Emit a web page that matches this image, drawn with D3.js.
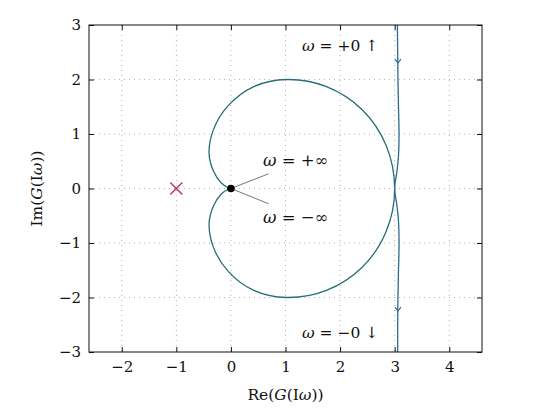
<!DOCTYPE html>
<html>
<head>
<meta charset="utf-8">
<script src="https://cdn.jsdelivr.net/npm/d3@7"></script>
<style>
    body { margin: 0; background: #fff; }
    text { font-family: "DejaVu Serif", serif; fill: #111; }
    .grid line { stroke: #b5b5b5; stroke-width: 1; stroke-dasharray: 1,4; }
</style>
</head>
<body>
<div id="chart"></div>
<script>
// axis ticks
let xTicks = [-2, -1, 0, 1, 2, 3, 4];
let yTicks = [-3, -2, -1, 0, 1, 2, 3];

// Nyquist loop (start at origin, go round through (3,0))
let loopRe = [0, -0.05, -0.18, -0.32, -0.4, -0.32, -0.05, 0.42, 1.02, 1.75, 2.4, 2.84, 3,
              2.84, 2.4, 1.75, 1.02, 0.42, -0.05, -0.32, -0.4, -0.32, -0.18, -0.05, 0];
let loopIm = [0, 0.014, 0.105, 0.32, 0.64, 1.08, 1.52, 1.87, 2.0, 1.87, 1.45, 0.8, 0,
              -0.8, -1.45, -1.87, -2.0, -1.87, -1.52, -1.08, -0.64, -0.32, -0.105, -0.014, 0];

// branch near omega = +-0
let stemRe = [3.05, 3.055, 3.06, 3.07, 3.08, 3.07, 3.04, 3.0, 3.04, 3.07, 3.08, 3.07, 3.06, 3.055, 3.055];
let stemIm = [3.0, 2.5, 2.0, 1.5, 1.0, 0.6, 0.3, 0, -0.3, -0.6, -1.0, -1.5, -2.0, -2.5, -3.0];

// arrow positions on the stem
let arrowRe = [3.06, 3.06];
let arrowIm = [2.3, -2.25];

// critical point and omega = +-inf point
let crossPt = [-1, 0];
let dotPt = [0, 0];

function drawChart() {
    const width = 533, height = 408;
    const left = 89, right = 482, top = 25, bottom = 352;
    const serif = 'DejaVu Serif';

    let svg = d3.select('#chart').append('svg')
        .attr('width', width)
        .attr('height', height);

    let x = d3.scaleLinear().domain([-2.6, 4.6]).range([left, right]);
    let y = d3.scaleLinear().domain([-3, 3]).range([bottom, top]);

    // dotted grid
    let grid = svg.append('g').attr('class', 'grid');
    grid.selectAll('.gx').data(xTicks).enter().append('line')
        .attr('x1', d => x(d)).attr('x2', d => x(d))
        .attr('y1', top).attr('y2', bottom);
    grid.selectAll('.gy').data(yTicks.filter(d => d > -3 && d < 3)).enter().append('line')
        .attr('y1', d => y(d)).attr('y2', d => y(d))
        .attr('x1', left).attr('x2', right);

    svg.append('clipPath').attr('id', 'clip')
        .append('rect')
        .attr('x', left).attr('y', top)
        .attr('width', right - left).attr('height', bottom - top);

    let plot = svg.append('g').attr('clip-path', 'url(#clip)');

    let line = d3.line()
        .x(d => x(d[0]))
        .y(d => y(d[1]))
        .curve(d3.curveCatmullRom.alpha(0.5));

    plot.append('path')
        .datum(loopRe.map((r, i) => [r, loopIm[i]]))
        .attr('d', line)
        .attr('fill', 'none')
        .attr('stroke', '#256f78')
        .attr('stroke-width', 1.3);

    plot.append('path')
        .datum(stemRe.map((r, i) => [r, stemIm[i]]))
        .attr('d', line)
        .attr('fill', 'none')
        .attr('stroke', '#2d6b90')
        .attr('stroke-width', 1.3);

    // arrowheads pointing down
    plot.selectAll('.arrow').data(arrowRe).enter().append('path')
        .attr('d', (d, i) => {
            let ax = x(d), ay = y(arrowIm[i]);
            return 'M' + (ax - 3) + ',' + (ay - 4) + 'L' + ax + ',' + ay + 'L' + (ax + 3) + ',' + (ay - 4);
        })
        .attr('fill', 'none')
        .attr('stroke', '#2d6b90')
        .attr('stroke-width', 1.1);

    // frame
    svg.append('rect')
        .attr('x', left).attr('y', top)
        .attr('width', right - left).attr('height', bottom - top)
        .attr('fill', 'none')
        .attr('stroke', '#111')
        .attr('stroke-width', 1);

    // inward ticks via axes
    let fmt = d3.format('d');
    svg.append('g')
        .attr('transform', 'translate(0,' + bottom + ')')
        .call(d3.axisBottom(x).tickValues(xTicks).tickSize(-5).tickPadding(9).tickFormat(fmt))
        .call(g => g.select('.domain').remove());
    svg.append('g')
        .attr('transform', 'translate(0,' + top + ')')
        .call(d3.axisTop(x).tickValues(xTicks).tickSize(-5).tickFormat(''))
        .call(g => g.select('.domain').remove());
    svg.append('g')
        .attr('transform', 'translate(' + left + ',0)')
        .call(d3.axisLeft(y).tickValues(yTicks).tickSize(-5).tickPadding(8).tickFormat(fmt))
        .call(g => g.select('.domain').remove());
    svg.append('g')
        .attr('transform', 'translate(' + right + ',0)')
        .call(d3.axisRight(y).tickValues(yTicks).tickSize(-5).tickFormat(''))
        .call(g => g.select('.domain').remove());

    svg.selectAll('.tick line').attr('stroke', '#111');
    svg.selectAll('.tick text')
        .attr('font-family', serif)
        .attr('font-size', 15)
        .attr('fill', '#111');

    // annotation leaders from the origin
    svg.append('line')
        .attr('x1', x(0.05)).attr('y1', y(0.02))
        .attr('x2', x(0.69)).attr('y2', y(0.27))
        .attr('stroke', '#666').attr('stroke-width', 0.9);
    svg.append('line')
        .attr('x1', x(0.05)).attr('y1', y(-0.02))
        .attr('x2', x(0.69)).attr('y2', y(-0.28))
        .attr('stroke', '#666').attr('stroke-width', 0.9);

    // red cross at -1
    let cx = x(crossPt[0]), cy = y(crossPt[1]);
    svg.append('path')
        .attr('d', 'M' + (cx - 6) + ',' + (cy - 6) + 'L' + (cx + 6) + ',' + (cy + 6)
            + 'M' + (cx - 6) + ',' + (cy + 6) + 'L' + (cx + 6) + ',' + (cy - 6))
        .attr('stroke', '#b8334f')
        .attr('stroke-width', 1.3);

    // black dot at origin
    svg.append('circle')
        .attr('cx', x(dotPt[0])).attr('cy', y(dotPt[1]))
        .attr('r', 3.8)
        .attr('fill', '#000');

    // labels
    function mathLabel(px, py, parts, size) {
        let t = svg.append('text')
            .attr('x', px).attr('y', py)
            .attr('font-family', serif)
            .style('font-size', size + 'px');
        parts.forEach(p => {
            t.append('tspan')
                .style('font-style', p.it ? 'italic' : 'normal')
                .text(p.s);
        });
        return t;
    }

    mathLabel(263, 166, [{s: 'ω', it: true}, {s: ' = +∞'}], 16.5);
    mathLabel(263, 223, [{s: 'ω', it: true}, {s: ' = −∞'}], 16.5);
    mathLabel(302, 51, [{s: 'ω', it: true}, {s: ' = +0 ↑'}], 15.5);
    mathLabel(302, 338, [{s: 'ω', it: true}, {s: ' = −0 ↓'}], 15.5);

    mathLabel(0, 0, [{s: 'Re('}, {s: 'G', it: true}, {s: '(I'}, {s: 'ω', it: true}, {s: '))'}], 15.5)
        .attr('x', (left + right) / 2).attr('y', 400)
        .attr('text-anchor', 'middle');

    mathLabel(0, 0, [{s: 'Im('}, {s: 'G', it: true}, {s: '(I'}, {s: 'ω', it: true}, {s: '))'}], 15.5)
        .attr('text-anchor', 'middle')
        .attr('transform', 'translate(42,' + y(0) + ') rotate(-90)');
}

drawChart();
</script>
</body>
</html>
